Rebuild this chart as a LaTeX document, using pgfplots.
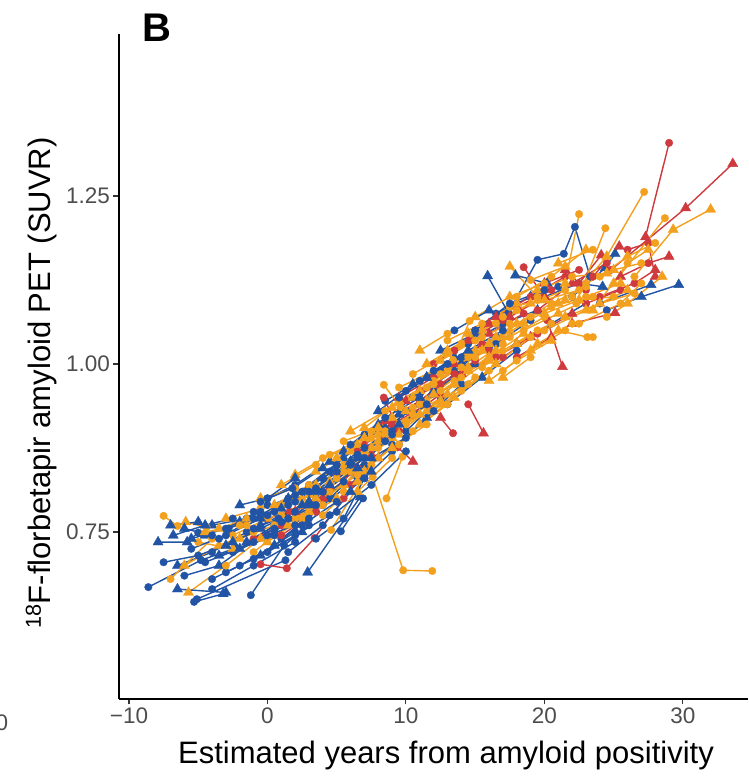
\documentclass[border=0pt]{standalone}
\usepackage{pgfplots}
\pgfplotsset{compat=1.18}
\usepackage{fontspec}
\setmainfont{Liberation Sans}
\definecolor{bl}{RGB}{33,84,164}
\definecolor{org}{RGB}{242,160,30}
\definecolor{rd}{RGB}{207,58,62}
\definecolor{tg}{RGB}{77,77,77}
\pgfdeclareplotmark{bigtri}{%
  \pgfpathmoveto{\pgfqpoint{0pt}{1.55\pgfplotmarksize}}%
  \pgfpathlineto{\pgfqpoint{1.342\pgfplotmarksize}{-0.775\pgfplotmarksize}}%
  \pgfpathlineto{\pgfqpoint{-1.342\pgfplotmarksize}{-0.775\pgfplotmarksize}}%
  \pgfpathclose
  \pgfusepathqfillstroke}
\pgfplotsset{
 traj/.style={scatter, scatter src=explicit symbolic, line width=1.4pt, mark size=3.8pt, mark options={line width=0.3pt, solid}},
 bb/.style={traj, color=bl},
 oo/.style={traj, color=org},
 rr/.style={traj, color=rd},
}
\begin{document}
\begin{tikzpicture}
\useasboundingbox (0,0) rectangle (748pt,779pt);
\begin{axis}[
 at={(119pt,80pt)}, anchor=south west, scale only axis,
 width=629pt, height=665pt,
 xmin=-10.72, xmax=34.7, ymin=0.5015, ymax=1.491,
 axis x line*=bottom, axis y line*=left,
 axis line style={line width=1.6pt, black, -},
 tick align=outside, major tick length=5.5pt,
 tick style={black!80, line width=1.1pt},
 xtick={-10,0,10,20,30}, xticklabels={−10,0,10,20,30},
 ytick={0.75,1,1.25}, yticklabels={0.75,1.00,1.25},
 tick label style={font=\fontsize{22.5}{27}\selectfont, text=tg},
 scatter/classes={c={mark=*}, t={mark=bigtri}},
]
% ---- blue (first half)
\addplot[bb] coordinates {(-8.6,0.668)[c] (-4.8,0.708)[c] (-2.3,0.726)[c]};
\addplot[bb] coordinates {(-7.9,0.735)[t] (-5.8,0.735)[t] (-5.0,0.749)[c]};
\addplot[bb] coordinates {(-5.3,0.646)[c] (-3.2,0.658)[t]};
\addplot[bb] coordinates {(-5.1,0.650)[c] (1.3,0.708)[c]};
\addplot[bb] coordinates {(-1.2,0.656)[c] (1.2,0.730)[c] (3.0,0.760)[c]};
\addplot[bb] coordinates {(2.9,0.690)[t] (6.7,0.802)[t]};
\addplot[bb] coordinates {(5.3,0.751)[c] (6.9,0.800)[c]};
\addplot[bb] coordinates {(-6.5,0.700)[t] (-4.0,0.720)[c] (-1.5,0.750)[c]};
\addplot[bb] coordinates {(-6.0,0.685)[c] (-3.5,0.700)[t] (0.5,0.760)[c]};
\addplot[bb] coordinates {(-4.5,0.745)[t] (-2.0,0.765)[t] (0.0,0.790)[c]};
\addplot[bb] coordinates {(-3.0,0.690)[c] (0.0,0.720)[c] (2.5,0.750)[t]};
\addplot[bb] coordinates {(-2.5,0.720)[c] (0.5,0.750)[c] (3.5,0.800)[c]};
\addplot[bb] coordinates {(-1.0,0.780)[c] (1.5,0.800)[t] (4.0,0.830)[c]};
\addplot[bb] coordinates {(0.0,0.800)[c] (2.0,0.820)[c] (4.5,0.855)[t]};
\addplot[bb] coordinates {(-4.0,0.760)[t] (-1.5,0.770)[c]};
\addplot[bb] coordinates {(1.0,0.740)[c] (3.5,0.780)[c] (6.0,0.840)[c]};
\addplot[bb] coordinates {(2.0,0.770)[t] (4.5,0.800)[c] (7.0,0.850)[c]};
\addplot[bb] coordinates {(3.0,0.820)[c] (5.5,0.860)[t] (8.0,0.900)[c]};
\addplot[bb] coordinates {(4.0,0.790)[c] (6.5,0.830)[c] (9.0,0.880)[c]};
\addplot[bb] coordinates {(5.5,0.870)[t] (8.0,0.910)[t] (10.5,0.950)[c]};
\addplot[bb] coordinates {(7.0,0.830)[c] (9.5,0.880)[c]};
\addplot[bb] coordinates {(8.0,0.930)[t] (10.0,0.960)[c] (12.5,0.990)[c]};
\addplot[bb] coordinates {(9.0,0.870)[c] (11.5,0.920)[t] (14.0,0.970)[c]};
\addplot[bb] coordinates {(10.0,0.900)[c] (12.5,0.950)[c] (15.0,1.000)[t]};
\addplot[bb] coordinates {(11.5,0.980)[t] (14.0,1.010)[c] (16.5,1.040)[c]};
\addplot[bb] coordinates {(13.0,0.940)[c] (15.5,0.980)[t] (18.0,1.020)[c]};
\addplot[bb] coordinates {(14.5,1.030)[c] (17.0,1.060)[c] (19.5,1.080)[t]};
\addplot[bb] coordinates {(15.9,1.131)[t] (17.4,1.076)[c] (19.5,1.155)[c] (21.4,1.164)[c] (22.2,1.204)[c] (23.3,1.130)[c]};
\addplot[bb] coordinates {(18.0,1.030)[t] (20.5,1.060)[c] (23.0,1.090)[c]};
\addplot[bb] coordinates {(20.0,1.100)[t] (22.5,1.120)[c] (24.2,1.115)[t]};
\addplot[bb] coordinates {(24.5,1.080)[c] (27.0,1.100)[t] (29.7,1.118)[t]};
\addplot[bb] coordinates {(17.9,1.132)[t] (20.2,1.120)[t]};
\addplot[bb] coordinates {(22.0,1.100)[c] (24.4,1.143)[t] (25.1,1.164)[t]};
\addplot[bb] coordinates {(24.0,1.090)[c] (27.7,1.118)[t]};
\addplot[bb] coordinates {(8.5,0.945)[c] (11.0,0.975)[c] (13.5,1.010)[t]};
\addplot[bb] coordinates {(10.0,0.930)[c] (12.0,0.960)[t] (14.5,0.995)[c]};
\addplot[bb] coordinates {(12.5,1.020)[t] (15.0,1.045)[c]};
\addplot[bb] coordinates {(16.5,1.075)[c] (19.0,1.100)[t] (21.0,1.115)[c]};
\addplot[bb] coordinates {(7.0,0.895)[c] (9.5,0.925)[t] (12.0,0.955)[t]};
\addplot[bb] coordinates {(8.5,0.905)[t] (11.0,0.940)[c] (13.5,0.980)[c]};
\addplot[bb] coordinates {(11.0,0.955)[c] (13.5,0.990)[t] (16.0,1.025)[c]};
\addplot[bb] coordinates {(14.0,1.000)[t] (16.5,1.030)[c] (19.0,1.065)[c]};
% ---- red
\addplot[rr] coordinates {(-0.5,0.702)[c] (1.4,0.696)[c] (3.4,0.741)[c] (5.5,0.800)[c]};
\addplot[rr] coordinates {(1.0,0.745)[c] (3.5,0.780)[c]};
\addplot[rr] coordinates {(0.0,0.770)[c] (1.6,0.780)[c]};
\addplot[rr] coordinates {(27.3,1.189)[t] (29.0,1.329)[c]};
\addplot[rr] coordinates {(24.8,1.140)[c] (30.2,1.232)[t] (33.6,1.298)[t]};
\addplot[rr] coordinates {(8.4,0.950)[c] (9.5,0.900)[c]};
\addplot[rr] coordinates {(9.4,0.876)[c] (10.5,0.855)[t]};
\addplot[rr] coordinates {(12.5,0.920)[t] (13.4,0.897)[c]};
\addplot[rr] coordinates {(14.5,0.940)[c] (15.6,0.897)[t]};
\addplot[rr] coordinates {(11.0,0.960)[c] (13.5,1.000)[t] (16.0,1.020)[c]};
\addplot[rr] coordinates {(13.0,0.990)[t] (15.5,1.030)[c]};
\addplot[rr] coordinates {(15.0,1.050)[c] (17.5,1.070)[t] (20.0,1.100)[t]};
\addplot[rr] coordinates {(16.5,1.070)[t] (19.0,1.100)[c] (21.5,1.130)[c]};
\addplot[rr] coordinates {(18.0,1.010)[c] (20.5,1.040)[t]};
\addplot[rr] coordinates {(19.5,1.080)[c] (22.0,1.120)[t] (24.5,1.150)[c]};
\addplot[rr] coordinates {(20.2,1.065)[c] (21.3,0.996)[t]};
\addplot[rr] coordinates {(22.0,1.060)[t] (25.1,1.076)[t]};
\addplot[rr] coordinates {(24.0,1.100)[c] (26.5,1.120)[c] (28.0,1.140)[t]};
\addplot[rr] coordinates {(18.5,1.144)[c] (20.0,1.100)[t]};
\addplot[rr] coordinates {(21.5,1.140)[t] (23.0,1.110)[c]};
\addplot[rr] coordinates {(22.5,1.120)[c] (24.1,1.162)[t]};
\addplot[rr] coordinates {(23.5,1.130)[c] (25.4,1.175)[t]};
\addplot[rr] coordinates {(26.0,1.170)[c] (27.5,1.180)[c] (28.0,1.130)[t]};
\addplot[rr] coordinates {(6.0,0.820)[c] (8.0,0.860)[t]};
\addplot[rr] coordinates {(7.0,0.880)[t] (9.0,0.910)[c] (11.5,0.940)[t]};
\addplot[rr] coordinates {(9.5,0.950)[t] (12.0,0.980)[c]};
\addplot[rr] coordinates {(14.0,0.985)[t] (16.5,1.010)[c] (19.0,1.040)[t]};
\addplot[rr] coordinates {(-1.0,0.740)[c] (1.0,0.760)[c]};
\addplot[rr] coordinates {(4.0,0.800)[t] (6.5,0.845)[c]};
\addplot[rr] coordinates {(8.5,0.915)[t] (11.0,0.945)[c] (13.5,0.985)[c]};
\addplot[rr] coordinates {(10.5,0.925)[c] (12.5,0.955)[t]};
\addplot[rr] coordinates {(12.0,1.000)[c] (14.5,1.035)[t] (17.0,1.065)[c]};
\addplot[rr] coordinates {(16.0,1.045)[t] (18.5,1.075)[c]};
\addplot[rr] coordinates {(17.0,1.010)[c] (19.5,1.045)[c] (22.0,1.075)[t]};
\addplot[rr] coordinates {(20.0,1.120)[t] (22.5,1.140)[c]};
\addplot[rr] coordinates {(23.0,1.090)[c] (25.5,1.110)[c]};
\addplot[rr] coordinates {(25.5,1.130)[t] (27.5,1.150)[c] (29.0,1.160)[t]};
\addplot[rr] coordinates {(6.5,0.870)[c] (8.5,0.890)[t]};
\addplot[rr] coordinates {(2.0,0.780)[t] (4.5,0.815)[c]};
\addplot[rr] coordinates {(5.0,0.835)[c] (7.5,0.865)[t]};
\addplot[rr] coordinates {(10.0,0.945)[t] (12.5,0.970)[c] (15.0,1.005)[c]};
\addplot[rr] coordinates {(13.5,1.020)[c] (16.0,1.060)[t]};
\addplot[rr] coordinates {(18.0,1.085)[t] (20.5,1.110)[c]};
% ---- orange
\addplot[oo] coordinates {(7.6,0.832)[c] (9.8,0.693)[c] (11.9,0.692)[c]};
\addplot[oo] coordinates {(8.6,0.800)[c] (9.75,0.862)[c]};
\addplot[oo] coordinates {(-7.5,0.774)[c] (-6.5,0.759)[c] (-5.9,0.765)[t] (-4.4,0.757)[c]};
\addplot[oo] coordinates {(-7.0,0.680)[c] (-4.0,0.740)[c]};
\addplot[oo] coordinates {(-5.7,0.660)[t] (-3.0,0.700)[c] (-0.5,0.740)[t]};
\addplot[oo] coordinates {(-6.0,0.700)[t] (-3.5,0.730)[t] (-1.0,0.750)[c]};
\addplot[oo] coordinates {(-3.0,0.770)[t] (-0.5,0.785)[c] (2.0,0.800)[t]};
\addplot[oo] coordinates {(-1.0,0.720)[c] (1.5,0.760)[t] (4.0,0.790)[c]};
\addplot[oo] coordinates {(0.5,0.790)[t] (3.0,0.820)[c] (5.5,0.850)[c]};
\addplot[oo] coordinates {(2.0,0.770)[c] (4.5,0.810)[c] (7.0,0.840)[t]};
\addplot[oo] coordinates {(3.5,0.840)[t] (6.0,0.870)[t] (8.5,0.900)[c]};
\addplot[oo] coordinates {(4.6,0.753)[c] (7.5,0.850)[c]};
\addplot[oo] coordinates {(6.0,0.900)[t] (8.5,0.930)[c] (11.0,0.960)[t]};
\addplot[oo] coordinates {(7.5,0.900)[c] (10.0,0.930)[t] (12.5,0.960)[c]};
\addplot[oo] coordinates {(8.4,0.969)[c] (9.6,0.936)[c]};
\addplot[oo] coordinates {(9.5,0.880)[c] (12.0,0.930)[t] (14.5,0.970)[c]};
\addplot[oo] coordinates {(10.5,0.950)[t] (13.0,0.990)[c] (15.5,1.020)[t]};
\addplot[oo] coordinates {(11.0,0.910)[t] (13.5,0.950)[t] (16.0,0.990)[c]};
\addplot[oo] coordinates {(12.0,0.970)[c] (14.5,1.010)[c] (17.0,1.040)[t]};
\addplot[oo] coordinates {(13.0,1.020)[t] (15.5,1.050)[t] (18.0,1.080)[c]};
\addplot[oo] coordinates {(14.0,0.960)[c] (16.5,1.000)[t] (19.0,1.040)[c]};
\addplot[oo] coordinates {(15.0,1.010)[c] (17.5,1.040)[c] (20.0,1.070)[c]};
\addplot[oo] coordinates {(16.0,1.030)[t] (18.5,1.060)[t] (21.0,1.090)[t]};
\addplot[oo] coordinates {(17.0,0.990)[c] (19.5,1.030)[t] (22.0,1.060)[c]};
\addplot[oo] coordinates {(17.5,1.145)[t] (19.5,1.100)[c]};
\addplot[oo] coordinates {(13.4,1.006)[c] (14.6,1.064)[c]};
\addplot[oo] coordinates {(21.5,1.120)[t] (22.5,1.223)[c]};
\addplot[oo] coordinates {(22.3,1.090)[c] (24.4,1.202)[c]};
\addplot[oo] coordinates {(22.0,1.100)[c] (24.5,1.160)[t] (27.2,1.256)[c]};
\addplot[oo] coordinates {(25.0,1.120)[t] (28.7,1.217)[c]};
\addplot[oo] coordinates {(26.5,1.130)[c] (29.3,1.200)[t] (32.0,1.230)[t]};
\addplot[oo] coordinates {(18.0,1.100)[c] (20.5,1.130)[c] (23.0,1.170)[t]};
\addplot[oo] coordinates {(20.0,1.050)[c] (23.0,1.080)[t] (26.0,1.110)[t]};
\addplot[oo] coordinates {(22.5,1.060)[c] (25.5,1.090)[c] (27.0,1.120)[c]};
\addplot[oo] coordinates {(23.5,1.080)[t] (26.0,1.150)[c] (27.5,1.170)[t]};
\addplot[oo] coordinates {(24.5,1.070)[c] (26.0,1.090)[t] (28.5,1.130)[t]};
\addplot[oo] coordinates {(-4.5,0.750)[t] (-2.0,0.760)[c]};
\addplot[oo] coordinates {(1.0,0.820)[t] (3.5,0.850)[c]};
\addplot[oo] coordinates {(4.0,0.860)[c] (6.5,0.880)[t] (9.0,0.920)[t]};
\addplot[oo] coordinates {(6.5,0.810)[t] (9.0,0.860)[c]};
\addplot[oo] coordinates {(8.0,0.860)[t] (10.5,0.900)[c] (13.0,0.940)[c]};
\addplot[oo] coordinates {(11.5,1.000)[t] (14.0,1.030)[c]};
\addplot[oo] coordinates {(16.5,1.060)[c] (19.0,1.090)[t] (21.5,1.110)[c]};
\addplot[oo] coordinates {(19.0,1.020)[t] (21.5,1.050)[c]};
\addplot[oo] coordinates {(21.0,1.150)[t] (23.5,1.170)[c]};
\addplot[oo] coordinates {(21.0,1.050)[t] (23.1,1.040)[c] (23.5,1.040)[c]};
\addplot[oo] coordinates {(5.5,0.810)[c] (7.0,0.870)[t] (9.5,0.910)[c]};
\addplot[oo] coordinates {(2.5,0.800)[t] (5.0,0.830)[c]};
\addplot[oo] coordinates {(-2.5,0.745)[c] (0.0,0.770)[t] (2.5,0.790)[c]};
\addplot[oo] coordinates {(9.0,0.890)[t] (11.5,0.930)[t] (13.5,0.970)[t]};
\addplot[oo] coordinates {(12.5,0.985)[c] (15.0,1.020)[t] (17.5,1.050)[t]};
\addplot[oo] coordinates {(14.5,0.990)[t] (17.0,1.020)[c] (19.5,1.050)[c]};
\addplot[oo] coordinates {(0.0,0.735)[t] (2.5,0.770)[c] (5.0,0.800)[t]};
\addplot[oo] coordinates {(17.0,0.980)[t] (19.0,1.010)[c]};
\addplot[oo] coordinates {(3.0,0.785)[c] (5.5,0.820)[t] (8.0,0.875)[c]};
\addplot[oo] coordinates {(4.5,0.825)[t] (7.0,0.860)[c] (9.5,0.895)[t]};
\addplot[oo] coordinates {(5.5,0.885)[c] (8.0,0.905)[t] (10.5,0.935)[c]};
\addplot[oo] coordinates {(6.5,0.835)[c] (9.0,0.875)[t] (11.5,0.910)[c]};
\addplot[oo] coordinates {(7.0,0.905)[t] (9.5,0.945)[t] (12.0,0.975)[c]};
\addplot[oo] coordinates {(8.0,0.895)[c] (10.5,0.925)[c] (13.0,0.955)[t]};
\addplot[oo] coordinates {(9.0,0.935)[t] (11.5,0.965)[c] (14.0,0.995)[c]};
\addplot[oo] coordinates {(10.0,0.910)[c] (12.5,0.945)[t] (15.0,0.980)[c]};
\addplot[oo] coordinates {(10.5,0.985)[c] (13.0,1.015)[t] (15.5,1.040)[c]};
\addplot[oo] coordinates {(11.5,0.945)[t] (14.0,0.980)[c] (16.5,1.020)[t]};
\addplot[oo] coordinates {(12.5,1.005)[t] (15.0,1.035)[c] (17.5,1.060)[c]};
\addplot[oo] coordinates {(13.5,0.975)[c] (16.0,1.010)[t] (18.5,1.045)[t]};
\addplot[oo] coordinates {(14.5,1.045)[t] (17.0,1.070)[c] (19.5,1.095)[c]};
\addplot[oo] coordinates {(15.5,0.995)[c] (18.0,1.030)[t] (20.5,1.060)[c]};
\addplot[oo] coordinates {(16.5,1.040)[t] (19.0,1.070)[c] (21.5,1.095)[t]};
\addplot[oo] coordinates {(17.5,1.085)[c] (20.0,1.095)[t] (22.5,1.110)[c]};
\addplot[oo] coordinates {(18.5,1.050)[c] (21.0,1.075)[t] (23.5,1.100)[c]};
\addplot[oo] coordinates {(19.5,1.110)[t] (22.0,1.130)[c] (24.5,1.135)[t]};
\addplot[oo] coordinates {(20.5,1.085)[c] (23.0,1.100)[c] (25.5,1.120)[t]};
\addplot[oo] coordinates {(21.5,1.070)[t] (24.0,1.090)[t] (26.5,1.105)[c]};
\addplot[oo] coordinates {(23.0,1.120)[c] (25.0,1.140)[t] (27.0,1.150)[c]};
\addplot[oo] coordinates {(-2.0,0.740)[t] (0.5,0.760)[c] (3.0,0.780)[t]};
\addplot[oo] coordinates {(-0.5,0.800)[t] (2.0,0.815)[c]};
\addplot[oo] coordinates {(1.0,0.775)[c] (3.5,0.800)[t] (6.0,0.840)[c]};
\addplot[oo] coordinates {(2.0,0.835)[t] (4.5,0.865)[c] (7.0,0.890)[t]};
\addplot[oo] coordinates {(-3.5,0.755)[t] (-1.5,0.770)[t]};
\addplot[oo] coordinates {(-5.0,0.735)[c] (-2.5,0.725)[t]};
\addplot[oo] coordinates {(5.0,0.860)[t] (7.5,0.890)[c]};
\addplot[oo] coordinates {(11.0,1.020)[t] (13.0,1.045)[c]};
\addplot[oo] coordinates {(16.0,0.975)[t] (18.0,1.005)[c] (20.5,1.035)[t]};
\addplot[oo] coordinates {(24.0,1.130)[c] (26.0,1.160)[t] (28.0,1.180)[c]};
\addplot[oo] coordinates {(6.0,0.855)[c] (8.5,0.895)[c] (11.0,0.925)[t]};
\addplot[oo] coordinates {(7.5,0.875)[t] (10.0,0.915)[c] (12.5,0.940)[t]};
\addplot[oo] coordinates {(9.5,0.965)[c] (12.0,0.990)[t] (14.5,1.015)[c]};
\addplot[oo] coordinates {(11.0,0.940)[c] (13.5,0.970)[c] (16.0,1.005)[t]};
\addplot[oo] coordinates {(12.0,0.955)[t] (14.5,0.995)[t] (17.0,1.030)[c]};
\addplot[oo] coordinates {(13.0,1.035)[c] (15.5,1.060)[c] (18.0,1.090)[t]};
\addplot[oo] coordinates {(15.0,1.070)[t] (17.5,1.100)[t] (20.0,1.120)[c]};
\addplot[oo] coordinates {(18.0,1.060)[t] (20.5,1.090)[c] (23.0,1.115)[c]};
\addplot[oo] coordinates {(19.0,1.125)[c] (21.5,1.145)[t]};
\addplot[oo] coordinates {(20.0,1.075)[t] (22.5,1.095)[t] (25.0,1.100)[c]};
\addplot[oo] coordinates {(3.0,0.805)[t] (5.5,0.840)[c] (8.0,0.885)[t]};
\addplot[oo] coordinates {(4.0,0.775)[c] (6.5,0.825)[t]};
\addplot[oo] coordinates {(-1.5,0.760)[c] (1.0,0.790)[c] (3.5,0.820)[t]};
% ---- blue (second half)
\addplot[bb] coordinates {(-7.0,0.760)[t] (-5.0,0.765)[t]};
\addplot[bb] coordinates {(-3.5,0.740)[c] (-1.0,0.770)[c] (1.5,0.790)[c]};
\addplot[bb] coordinates {(-2.0,0.700)[c] (0.5,0.730)[t] (3.0,0.770)[c]};
\addplot[bb] coordinates {(0.5,0.780)[c] (3.0,0.810)[c] (5.0,0.840)[c]};
\addplot[bb] coordinates {(1.5,0.720)[c] (4.0,0.760)[c] (6.0,0.810)[t]};
\addplot[bb] coordinates {(-0.5,0.760)[t] (2.5,0.790)[t]};
\addplot[bb] coordinates {(6.0,0.880)[c] (8.5,0.920)[c] (11.0,0.950)[t]};
\addplot[bb] coordinates {(7.5,0.860)[t] (10.0,0.890)[c] (12.0,0.930)[c]};
\addplot[bb] coordinates {(3.5,0.740)[c] (5.5,0.770)[c] (7.0,0.830)[c]};
\addplot[bb] coordinates {(12.0,0.990)[c] (14.5,1.020)[t] (17.0,1.050)[c]};
\addplot[bb] coordinates {(15.0,1.050)[c] (17.5,1.090)[c] (20.0,1.110)[c]};
\addplot[bb] coordinates {(9.5,0.950)[c] (11.5,0.980)[t]};
\addplot[bb] coordinates {(-4.0,0.680)[c] (-1.0,0.710)[c] (2.0,0.750)[c]};
\addplot[bb] coordinates {(-6.5,0.665)[t] (-3.0,0.660)[t]};
\addplot[bb] coordinates {(-2.0,0.790)[t] (0.0,0.800)[c] (2.0,0.830)[t]};
\addplot[bb] coordinates {(10.5,0.970)[t] (13.0,1.000)[c]};
\addplot[bb] coordinates {(13.5,1.050)[c] (16.0,1.080)[t]};
\addplot[bb] coordinates {(-6.8,0.745)[t] (-4.5,0.760)[t] (-2.5,0.770)[c]};
\addplot[bb] coordinates {(-5.5,0.725)[c] (-3.0,0.745)[c] (-0.5,0.770)[t]};
\addplot[bb] coordinates {(-4.5,0.705)[c] (-2.0,0.725)[t] (0.5,0.745)[c]};
\addplot[bb] coordinates {(-3.5,0.715)[t] (-1.0,0.735)[c] (1.5,0.770)[c]};
\addplot[bb] coordinates {(-2.8,0.755)[c] (-0.5,0.775)[c] (2.0,0.805)[c]};
\addplot[bb] coordinates {(-1.5,0.735)[t] (1.0,0.765)[c] (3.5,0.790)[c]};
\addplot[bb] coordinates {(-0.5,0.795)[c] (1.8,0.815)[c] (4.0,0.845)[t]};
\addplot[bb] coordinates {(0.5,0.755)[c] (3.0,0.790)[t] (5.5,0.825)[c]};
\addplot[bb] coordinates {(1.5,0.800)[c] (4.0,0.830)[c] (6.5,0.865)[c]};
\addplot[bb] coordinates {(2.5,0.760)[c] (5.0,0.795)[c] (7.5,0.840)[t]};
\addplot[bb] coordinates {(3.5,0.810)[t] (6.0,0.850)[c] (8.5,0.885)[c]};
\addplot[bb] coordinates {(4.5,0.840)[c] (7.0,0.875)[c] (9.5,0.910)[t]};
\addplot[bb] coordinates {(5.0,0.780)[c] (7.5,0.820)[c] (10.0,0.870)[c]};
\addplot[bb] coordinates {(6.5,0.860)[t] (9.0,0.900)[c] (11.5,0.940)[c]};
\addplot[bb] coordinates {(-7.5,0.705)[c] (-5.0,0.715)[c] (-2.5,0.735)[t]};
\addplot[bb] coordinates {(-4.0,0.665)[c] (-1.0,0.700)[c] (2.0,0.735)[c]};
\addplot[bb] coordinates {(-0.5,0.715)[t] (2.0,0.745)[c] (4.5,0.775)[c]};
\addplot[bb] coordinates {(1.0,0.785)[t] (3.5,0.815)[c] (6.0,0.855)[t]};
\addplot[bb] coordinates {(0.0,0.745)[c] (2.0,0.760)[c]};
\addplot[bb] coordinates {(-1.0,0.755)[c] (0.8,0.770)[c] (3.0,0.795)[t]};
\addplot[bb] coordinates {(4.0,0.810)[c] (6.5,0.845)[t] (9.0,0.895)[c]};
\addplot[bb] coordinates {(-5.5,0.740)[t] (-3.0,0.755)[c] (-0.5,0.780)[c]};
\addplot[bb] coordinates {(-3.0,0.730)[t] (-0.5,0.755)[t] (2.0,0.780)[c]};
\addplot[bb] coordinates {(0.0,0.775)[c] (2.5,0.810)[c] (5.0,0.850)[c]};
\addplot[bb] coordinates {(2.0,0.795)[c] (4.5,0.820)[t] (7.0,0.860)[c]};
\addplot[bb] coordinates {(-6.0,0.755)[t] (-4.0,0.745)[c]};
\end{axis}
\node[anchor=base, font=\fontsize{31}{36}\selectfont] at (446pt,15pt) {Estimated years from amyloid positivity};
\node[anchor=base, rotate=90, font=\fontsize{31}{36}\selectfont] at (50pt,396pt) {\textsuperscript{18}F-florbetapir amyloid PET (SUVR)};
\node[anchor=base west, font=\bfseries\fontsize{40}{44}\selectfont] at (139pt,737pt) {B};
\node[anchor=base, font=\fontsize{22.5}{27}\selectfont, text=tg] at (-11pt,48pt) {−20};
\end{tikzpicture}
\end{document}
